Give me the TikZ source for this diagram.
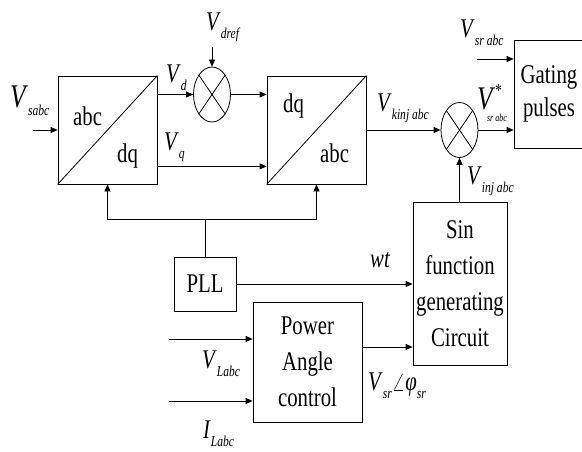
\documentclass[tikz,border=0pt]{standalone}
\usepackage{fontspec}
\setmainfont[FakeStretch=0.77]{Liberation Serif}
\usetikzlibrary{arrows.meta, positioning, shapes.geometric, calc}
\newcommand{\sig}[2]{\textit{#1}\raisebox{-8pt}{\fontsize{15}{15}\selectfont\textit{#2}}}

\begin{document}
\begin{tikzpicture}[x=1pt, y=-1pt,
    block/.style={draw, line width=0.8pt, inner sep=0pt, font=\fontsize{27}{36}\selectfont, align=center},
    mixer/.style={draw, ellipse, line width=0.8pt, minimum width=37pt, minimum height=55pt, inner sep=0pt},
    lbl/.style={inner sep=0pt, anchor=base west, font=\fontsize{27}{30}\selectfont},
    arrow/.style={-{Triangle[length=7pt,width=6pt]}, line width=0.8pt},
    wire/.style={line width=0.8pt}]
    \useasboundingbox (0,0) rectangle (582,452);
    \clip (0,0) rectangle (582,452);

    % Transformation blocks
    \node[block, minimum width=99pt, minimum height=108pt] (abcdq) at (107.5,130) {};
    \draw[wire] (abcdq.south west) -- (abcdq.north east);
    \node[lbl] (abcone) at (73,125) {abc};
    \node[lbl] (dqone) at (117,162) {dq};
    \node[block, minimum width=99pt, minimum height=108pt] (dqabc) at (316.5,130) {};
    \draw[wire] (dqabc.south west) -- (dqabc.north east);
    \node[lbl] (dqtwo) at (283,113) {dq};
    \node[lbl] (abctwo) at (320,163) {abc};

    % Mixers
    \node[mixer] (mixd) at (212,94.5) {};
    \draw[wire] (mixd.north west) -- (mixd.south east) (mixd.north east) -- (mixd.south west);
    \node[mixer] (mixs) at (459.5,130) {};
    \draw[wire] (mixs.north west) -- (mixs.south east) (mixs.north east) -- (mixs.south west);

    % Other blocks
    \node[block, minimum width=70pt, minimum height=108pt, font=\fontsize{27}{33}\selectfont] (gate) at (549,94) {Gating\\pulses};
    \node[block, minimum width=94pt, minimum height=163pt] (sinf) at (460,283.5) {Sin\\function\\generating\\Circuit};
    \node[block, minimum width=62pt, minimum height=54pt] (pll) at (205,284) {PLL};
    \node[block, minimum width=109pt, minimum height=120pt] (pac) at (307.5,362) {Power\\Angle\\control};

    % Signal paths
    \coordinate (vsin) at (33,130);
    \draw[arrow] (vsin) -- (abcdq.west);
    \coordinate (vdin) at (212,47);
    \draw[arrow] (vdin) -- (mixd.north);
    \draw[arrow] (abcdq.east |- mixd) -- (mixd.west);
    \draw[arrow] (mixd.east) -- (dqabc.west |- mixd);
    \draw[arrow] ($(abcdq.south east)+(0,-18)$) -- ($(dqabc.south west)+(0,-18)$);
    \draw[arrow] (dqabc.east) -- (mixs.west);
    \draw[arrow] (mixs.east) -- (gate.west |- mixs);
    \coordinate (vsrin) at (477,59);
    \draw[arrow] (vsrin) -- (gate.west |- vsrin);
    \draw[arrow] (sinf.north -| mixs) -- (mixs.south);

    % PLL feedback
    \draw[wire] (pll.north) -- ++(0,-37) coordinate (fb);
    \draw[arrow] (fb) -| (abcdq.south);
    \draw[arrow] (fb) -| (dqabc.south);
    \draw[arrow] (pll.east) -- (sinf.west |- pll.east);

    % Power angle control
    \coordinate (pacout) at ($(pac.east)+(0,-15)$);
    \draw[arrow] (pacout) -- (sinf.west |- pacout);
    \coordinate (vlin) at (169,339);
    \draw[arrow] (vlin) -- (pac.west |- vlin);
    \coordinate (ilin) at (169,401);
    \draw[arrow] (ilin) -- (pac.west |- ilin);

    % Signal labels
    \node[lbl, font=\fontsize{33}{33}\selectfont] (lvs) at (10,108) {\sig{V}{sabc}};
    \node[lbl] (lvdref) at (206,31) {\sig{V}{dref}};
    \node[lbl] (lvd) at (166,83) {\sig{V}{d}};
    \node[lbl] (lvq) at (164,150) {\sig{V}{q}};
    \node[lbl] (lvk) at (377,112) {\sig{V}{kinj abc}};
    \node[lbl, font=\fontsize{33}{33}\selectfont] (lvstar) at (477,110) {\textit{V}\raisebox{13pt}{\fontsize{18}{18}\selectfont *}\hspace{-15pt}\raisebox{-12pt}{\fontsize{10.5}{10.5}\selectfont\textit{sr abc}}};
    \node[lbl] (lvsr) at (460,38) {\sig{V}{sr abc}};
    \node[lbl] (lvinj) at (467,185) {\sig{V}{inj abc}};
    \node[lbl] (lwt) at (370,267) {\textit{wt}};
    \node[lbl] (lvl) at (202,368) {\sig{V}{Labc}};
    \node[lbl] (lil) at (203,438) {\sig{I}{Labc}};
    \node[lbl] (lvsrphi) at (368,390) {\sig{V}{sr}$\angle$\textit{φ}\raisebox{-8pt}{\fontsize{15}{15}\selectfont\textit{sr}}};
\end{tikzpicture}
\end{document}
